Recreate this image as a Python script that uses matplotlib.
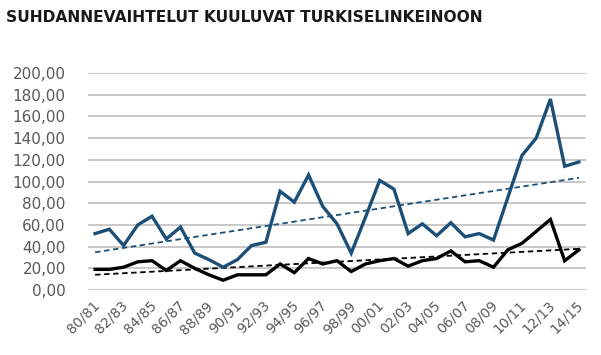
import matplotlib
matplotlib.use("Agg")
import matplotlib.pyplot as plt
import matplotlib.transforms as mtransforms
import numpy as np

# seasons 80/81 .. 14/15
seasons = [f"{y % 100:02d}/{(y + 1) % 100:02d}" for y in range(1980, 2015)]

blue_values = [52, 56, 41, 60, 68, 47, 58, 34, 28, 21, 28, 41, 44, 91, 81,
               106, 77, 61, 34, 67, 101, 93, 52, 61, 50, 62, 49, 52, 46, 85,
               124, 140, 176, 114, 118]
black_values = [19, 19, 21, 26, 27, 18, 27, 20, 14, 9, 14, 14, 14, 24, 16,
                29, 24, 27, 17, 24, 27, 29, 22, 27, 29, 36, 26, 27, 21, 37,
                43, 54, 65, 27, 37]

blue_color = "#1b4f78"
text_gray = "#595959"

fig = plt.figure(figsize=(6.01, 3.55), dpi=100)
ax = fig.add_axes([88 / 601, 65 / 355, 498 / 601, 217 / 355])

x = np.arange(len(seasons))

# linear trendlines
for vals, col in [(blue_values, blue_color), (black_values, "black")]:
    k, b = np.polyfit(x, vals, 1)
    ax.plot(x, k * x + b, color=col, linestyle=(0, (3, 2)), linewidth=1.3, zorder=3)

ax.plot(x, blue_values, color=blue_color, linewidth=2.4, zorder=4,
        solid_joinstyle="miter")
ax.plot(x, black_values, color="black", linewidth=2.4, zorder=4,
        solid_joinstyle="miter")

ax.set_xlim(-0.5, len(seasons) - 0.5)
ax.set_ylim(0, 200)
ax.set_yticks(range(0, 201, 20))
ax.set_yticklabels([f"{v},00" for v in range(0, 201, 20)])
ax.yaxis.grid(True, color="#c8c8c8", linewidth=1.4, zorder=0)
ax.set_axisbelow(True)

ax.set_xticks(x[::2])
ax.set_xticklabels(seasons[::2], rotation=45, ha="right", rotation_mode="anchor")

ax.tick_params(axis="both", length=0, colors=text_gray)
ax.tick_params(axis="x", labelsize=10, pad=6)
ax.tick_params(axis="y", labelsize=11, pad=16)
shift = mtransforms.ScaledTranslation(-3 / 100, 0, fig.dpi_scale_trans)
for lbl in ax.get_xticklabels():
    lbl.set_transform(lbl.get_transform() + shift)
for s in ax.spines.values():
    s.set_visible(False)

fig.text(6 / 601, 1 - 22 / 355, "SUHDANNEVAIHTELUT KUULUVAT TURKISELINKEINOON",
         fontsize=11.2, fontweight="bold", color="#1a1a1a")

fig.savefig("out.png", dpi=100)
